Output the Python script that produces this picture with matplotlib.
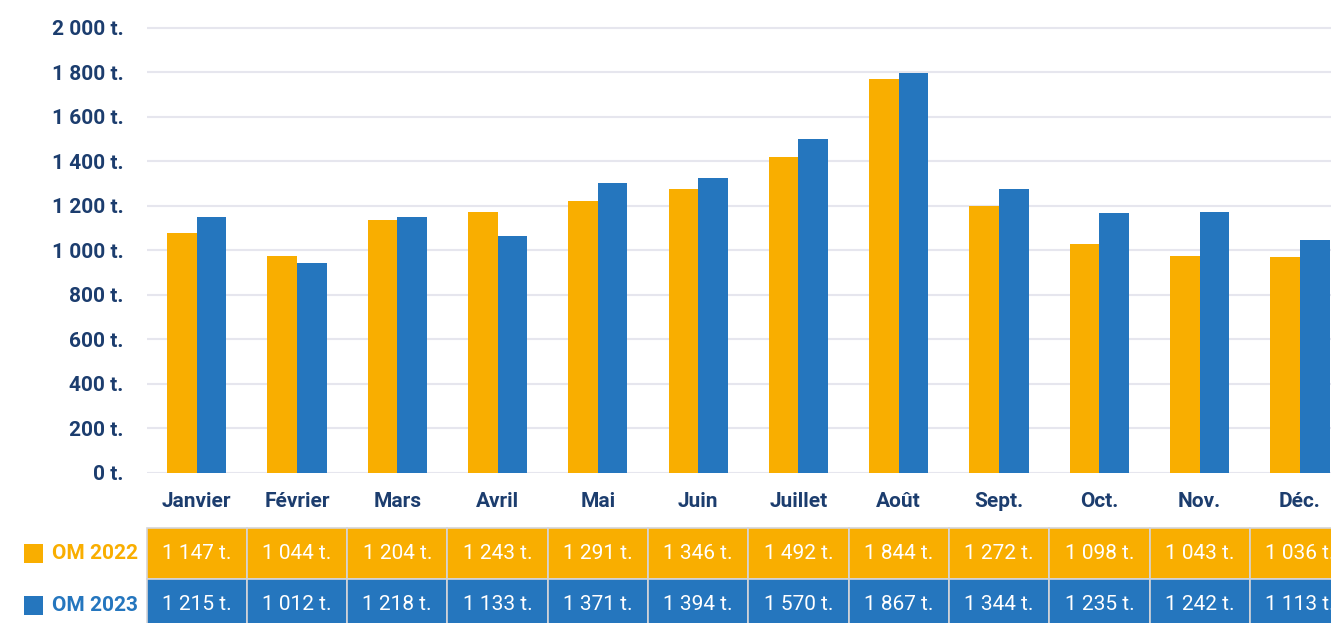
import numpy as np
import matplotlib.pyplot as plt
from matplotlib.patches import Rectangle

# donnees OM par mois
mois = ["Janvier", "Février", "Mars", "Avril", "Mai", "Juin",
        "Juillet", "Août", "Sept.", "Oct.", "Nov.", "Déc."]
# hauteurs des barres
barres_2022 = [1077, 975, 1134, 1172, 1221, 1275, 1420, 1771, 1200, 1027, 975, 967]
barres_2023 = [1147, 941, 1148, 1063, 1301, 1324, 1500, 1797, 1274, 1166, 1171, 1044]
# valeurs du tableau
tab_2022 = [1147, 1044, 1204, 1243, 1291, 1346, 1492, 1844, 1272, 1098, 1043, 1036]
tab_2023 = [1215, 1012, 1218, 1133, 1371, 1394, 1570, 1867, 1344, 1235, 1242, 1113]
series = ["OM 2022", "OM 2023"]
yticks = list(range(0, 2001, 200))

ORANGE = "#F9AE00"
BLUE = "#2576BE"
NAVY = "#1C3D6E"
GRID = "#E6E6EE"
FS = 15

plt.rcParams["font.family"] = ["Roboto", "DejaVu Sans"]

W, H = 1331, 623
fig = plt.figure(figsize=(W / 100, H / 100), dpi=100)


def fx(px):
    return px / W


def fy(py):
    return 1 - py / H


def fmt(v):
    return f"{int(v):,}".replace(",", " ") + " t."


left = 146.5
ax = fig.add_axes([fx(left), fy(472.5), 1 - fx(left), fy(0) - fy(472.5)])
x = np.arange(len(mois))
bw = 0.295
ax.bar(x - bw / 2, barres_2022, bw, color=ORANGE, zorder=2)
ax.bar(x + bw / 2, barres_2023, bw, color=BLUE, zorder=2)

xmax = (W - 196.7) / 100.3
ax.set_xlim(-0.5, xmax)
ax.set_ylim(0, 2124)
ax.set_yticks(yticks)
ax.set_yticklabels([fmt(v) for v in yticks])
ax.set_xticks(x)
ax.set_xticklabels(mois)
for lab in ax.get_yticklabels() + ax.get_xticklabels():
    lab.set_fontweight("bold")
    lab.set_color(NAVY)
    lab.set_fontsize(FS)
ax.tick_params(axis="y", length=0, pad=16.5)
ax.tick_params(axis="x", length=0, pad=14)
ax.grid(axis="y", color=GRID, lw=1.5, zorder=0)
ax.set_axisbelow(True)
for s in ax.spines.values():
    s.set_visible(False)

# tableau sous le graphique
tax = fig.add_axes([fx(left), fy(629.7), 1 - fx(left), 102 / H])
tax.set_xlim(-0.5, xmax)
tax.set_ylim(0, 2)
tax.axis("off")
for row, vals, col in [(1, tab_2022, ORANGE), (0, tab_2023, BLUE)]:
    for i, v in enumerate(vals):
        tax.add_patch(Rectangle((i - 0.5, row), 1, 1, facecolor=col,
                                edgecolor="#D4D4D8", lw=1.2, clip_on=False))
        tax.text(i, row + 0.5, fmt(v), color="white", fontsize=FS,
                 ha="center", va="center", clip_on=False)

# legende a gauche
for yc, name, col in [(553.5, series[0], ORANGE), (605.5, series[1], BLUE)]:
    fig.patches.append(Rectangle((fx(24), fy(yc + 9.5)), 19 / W, 19 / H,
                                 transform=fig.transFigure, facecolor=col,
                                 edgecolor="none"))
    fig.text(fx(52), fy(yc), name, color=col, fontsize=FS,
             fontweight="bold", ha="left", va="center")

fig.savefig("out.png", dpi=100)
